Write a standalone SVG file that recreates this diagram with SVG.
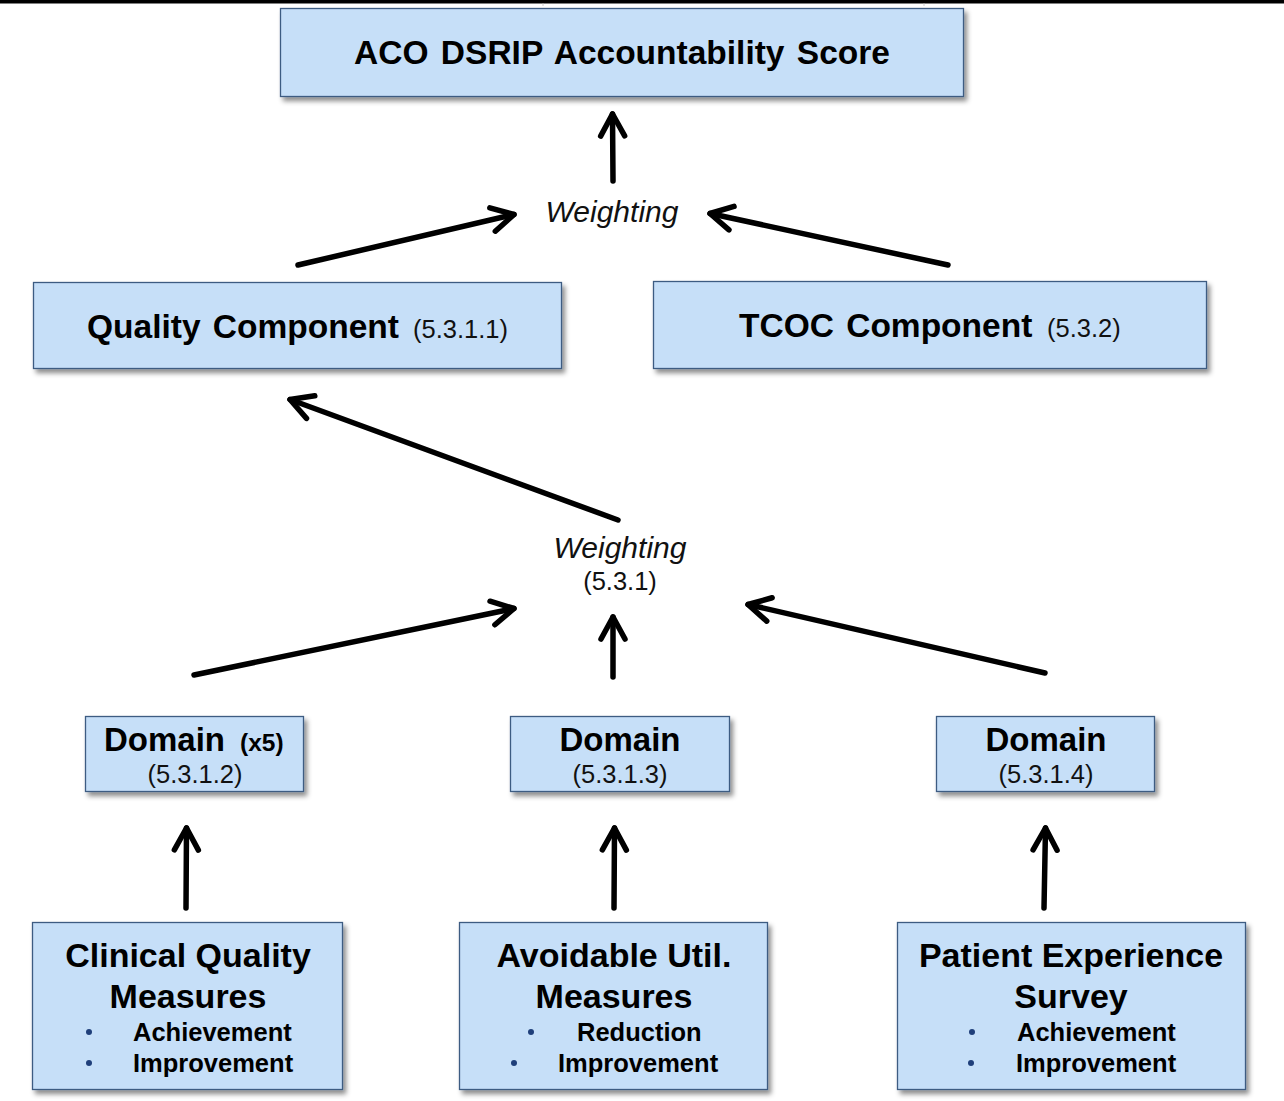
<svg xmlns="http://www.w3.org/2000/svg" width="1284" height="1101" viewBox="0 0 1284 1101">
<defs>
<style>
.box{fill:#c6dff8;stroke:#3d5b82;stroke-width:1.3;filter:url(#sh)}
.h{font-family:"Liberation Sans",Arial,sans-serif;font-weight:bold;fill:#000}
.n{font-family:"Liberation Sans",Arial,sans-serif;font-weight:normal;fill:#111}
.w{font-family:"Liberation Sans",Arial,sans-serif;font-style:italic;fill:#111;font-size:30px}
.b{font-family:"Liberation Sans",Arial,sans-serif;font-weight:bold;fill:#000;font-size:25.5px}
.dot{fill:#1f3f7a}
.c line{stroke:#000;stroke-width:5.5;stroke-linecap:round;marker-end:url(#ah)}
</style>
<filter id="sh" x="-10%" y="-10%" width="125%" height="130%">
<feDropShadow dx="3" dy="4" stdDeviation="2.5" flood-color="#000" flood-opacity="0.45"/>
</filter>
<marker id="ah" markerUnits="userSpaceOnUse" markerWidth="50" markerHeight="50" viewBox="-30 -25 50 50" refX="0" refY="0" orient="auto">
<path d="M-22,-12 L0,0 L-22,12" fill="none" stroke="#000" stroke-width="5.5" stroke-linecap="round" stroke-linejoin="round"/>
</marker>
</defs>
<rect width="1284" height="1101" fill="#fff"/>
<rect x="0" y="0" width="1284" height="3.5" fill="#000"/>
<line x1="543" y1="3.5" x2="543" y2="6" stroke="#ccc" stroke-width="1"/>
<line x1="924" y1="3.5" x2="924" y2="6" stroke="#ccc" stroke-width="1"/>

<g class="c" id="connectors">
<line x1="613" y1="181" x2="612.5" y2="114"/>
<line x1="298" y1="265" x2="514" y2="214.5"/>
<line x1="948" y1="265" x2="710" y2="213.5"/>
<line x1="618" y1="520" x2="290" y2="399.5"/>
<line x1="194" y1="675" x2="514" y2="608.5"/>
<line x1="613" y1="677" x2="613" y2="617"/>
<line x1="1045" y1="673" x2="748" y2="604.5"/>
<line x1="186" y1="908" x2="186.5" y2="828"/>
<line x1="614" y1="908" x2="614.5" y2="828"/>
<line x1="1044" y1="908" x2="1045.5" y2="828"/>
</g>

<g id="weighting-top">
<text class="w" x="612" y="222" text-anchor="middle">Weighting</text>
</g>
<g id="weighting-mid">
<text class="w" x="620" y="558" text-anchor="middle">Weighting</text>
<text class="n" x="620" y="590" text-anchor="middle" font-size="25.5">(5.3.1)</text>
</g>

<g id="aco">
<rect class="box" x="280.5" y="8.5" width="683" height="88"/>
<text class="h" x="622" y="64" text-anchor="middle" font-size="33.5" word-spacing="3">ACO DSRIP Accountability Score</text>
</g>

<g id="quality">
<rect class="box" x="33.5" y="282.5" width="528" height="86"/>
<text class="h" x="87" y="338" font-size="33.5" word-spacing="3">Quality Component</text>
<text class="n" x="413" y="338" font-size="25.5">(5.3.1.1)</text>
</g>

<g id="tcoc">
<rect class="box" x="653.5" y="281.5" width="553" height="87"/>
<text class="h" x="739" y="337" font-size="33.5" word-spacing="3">TCOC Component</text>
<text class="n" x="1047" y="337" font-size="25.5">(5.3.2)</text>
</g>

<g id="domain1">
<rect class="box" x="85.5" y="716.5" width="218" height="75"/>
<text class="h" x="104" y="751" font-size="33">Domain</text>
<text class="h" x="240" y="751" font-size="24.5">(x5)</text>
<text class="n" x="195" y="783" text-anchor="middle" font-size="25.5">(5.3.1.2)</text>
</g>

<g id="domain2">
<rect class="box" x="510.5" y="716.5" width="219" height="75"/>
<text class="h" x="620" y="751" text-anchor="middle" font-size="33">Domain</text>
<text class="n" x="620" y="783" text-anchor="middle" font-size="25.5">(5.3.1.3)</text>
</g>

<g id="domain3">
<rect class="box" x="936.5" y="716.5" width="218" height="75"/>
<text class="h" x="1046" y="751" text-anchor="middle" font-size="33">Domain</text>
<text class="n" x="1046" y="783" text-anchor="middle" font-size="25.5">(5.3.1.4)</text>
</g>

<g id="clinical">
<rect class="box" x="32.5" y="922.5" width="310" height="167"/>
<text class="h" x="188" y="967" text-anchor="middle" font-size="34">Clinical Quality</text>
<text class="h" x="188" y="1008" text-anchor="middle" font-size="34">Measures</text>
<circle class="dot" cx="89" cy="1032" r="3"/>
<text class="b" x="133" y="1041">Achievement</text>
<circle class="dot" cx="89" cy="1063" r="3"/>
<text class="b" x="133" y="1072">Improvement</text>
</g>

<g id="avoidable">
<rect class="box" x="459.5" y="922.5" width="308" height="167"/>
<text class="h" x="614" y="967" text-anchor="middle" font-size="34">Avoidable Util.</text>
<text class="h" x="614" y="1008" text-anchor="middle" font-size="34">Measures</text>
<circle class="dot" cx="531" cy="1032" r="3"/>
<text class="b" x="577" y="1041">Reduction</text>
<circle class="dot" cx="514" cy="1063" r="3"/>
<text class="b" x="558" y="1072">Improvement</text>
</g>

<g id="patient">
<rect class="box" x="897.5" y="922.5" width="348" height="167"/>
<text class="h" x="1071" y="967" text-anchor="middle" font-size="34">Patient Experience</text>
<text class="h" x="1071" y="1008" text-anchor="middle" font-size="34">Survey</text>
<circle class="dot" cx="972" cy="1032" r="3"/>
<text class="b" x="1017" y="1041">Achievement</text>
<circle class="dot" cx="971" cy="1063" r="3"/>
<text class="b" x="1016" y="1072">Improvement</text>
</g>
</svg>
